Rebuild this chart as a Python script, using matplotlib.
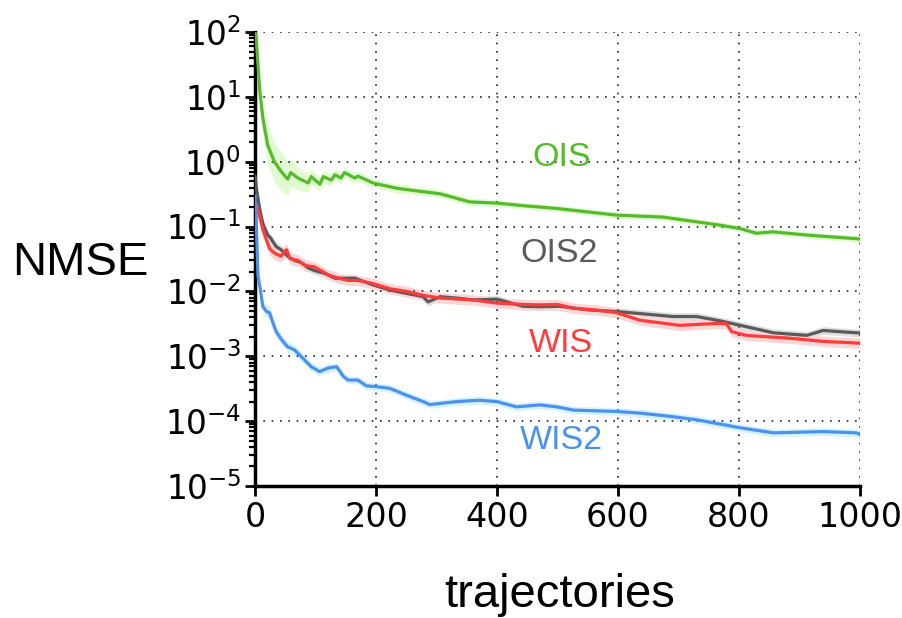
import matplotlib
matplotlib.use("Agg")
import matplotlib.pyplot as plt
import numpy as np
from matplotlib.ticker import LogLocator, NullFormatter

# values (x = trajectories, y = NMSE)
ois_x = [0, 2, 8, 13, 21, 32, 43, 54, 59, 71, 88, 93, 107, 113, 126, 132, 142, 148,
         165, 170, 195, 234, 262, 306, 355, 400, 443, 471, 499, 598, 675, 769, 802,
         829, 856, 912, 994, 1000]
ois_y = [100, 80, 12, 4.7, 1.8, 1.0, 0.71, 0.54, 0.68, 0.56, 0.47, 0.59, 0.45, 0.59,
         0.52, 0.63, 0.56, 0.68, 0.56, 0.6, 0.47, 0.39, 0.36, 0.32, 0.24, 0.23, 0.21,
         0.2, 0.19, 0.15, 0.14, 0.105, 0.093, 0.079, 0.083, 0.074, 0.065, 0.064]
ois_s = [0.0, 0.05, 0.2, 0.28, 0.3, 0.3, 0.3, 0.26, 0.22, 0.18, 0.14, 0.12, 0.11, 0.1,
         0.1, 0.09, 0.09, 0.08, 0.08, 0.08, 0.07, 0.07, 0.06, 0.06, 0.06, 0.05, 0.05,
         0.05, 0.05, 0.05, 0.05, 0.05, 0.05, 0.05, 0.05, 0.05, 0.05, 0.05]

ois2_x = [0, 3, 8, 13, 21, 26, 35, 43, 54, 65, 76, 88, 98, 115, 132, 148, 165, 195,
          223, 251, 278, 286, 306, 333, 361, 400, 443, 471, 504, 550, 598, 691, 730,
          770, 802, 857, 912, 939, 994, 1000]
ois2_y = [0.6, 0.35, 0.18, 0.11, 0.074, 0.066, 0.049, 0.044, 0.035, 0.030, 0.028,
          0.023, 0.021, 0.019, 0.016, 0.016, 0.016, 0.0126, 0.0105, 0.0093, 0.0083,
          0.0069, 0.0083, 0.0079, 0.0074, 0.0076, 0.0059, 0.0058, 0.0059, 0.0052,
          0.0049, 0.0041, 0.0041, 0.0035, 0.003, 0.0023, 0.0021, 0.0025, 0.0023, 0.0023]
ois2_s = [0.0, 0.1, 0.1, 0.08, 0.08, 0.07, 0.07, 0.07, 0.06, 0.06, 0.06, 0.06, 0.06,
          0.06, 0.06, 0.06, 0.06, 0.06, 0.06, 0.06, 0.06, 0.06, 0.06, 0.06, 0.06, 0.06,
          0.06, 0.06, 0.06, 0.06, 0.06, 0.06, 0.06, 0.06, 0.06, 0.06, 0.06, 0.06, 0.06, 0.06]

wis_x = [0, 4, 8, 13, 19, 24, 32, 43, 52, 58, 71, 84, 98, 121, 138, 154, 170, 195,
         223, 251, 278, 306, 361, 400, 443, 471, 500, 526, 560, 598, 636, 702, 760,
         779, 788, 812, 884, 939, 994, 1000]
wis_y = [0.2, 0.2, 0.14, 0.089, 0.062, 0.046, 0.039, 0.035, 0.044, 0.032, 0.030,
         0.025, 0.024, 0.018, 0.016, 0.0148, 0.0148, 0.0132, 0.011, 0.010, 0.0087,
         0.0079, 0.0074, 0.0066, 0.0063, 0.0062, 0.0063, 0.0055, 0.0052, 0.0047,
         0.0036, 0.003, 0.0032, 0.0032, 0.0024, 0.0021, 0.0019, 0.0017, 0.0016, 0.0016]
wis_s = [0.0, 0.05, 0.08, 0.1, 0.1, 0.1, 0.1, 0.1, 0.1, 0.09, 0.09, 0.09, 0.08, 0.08,
         0.08, 0.08, 0.08, 0.08, 0.08, 0.08, 0.08, 0.08, 0.08, 0.08, 0.08, 0.08, 0.08,
         0.08, 0.08, 0.08, 0.08, 0.08, 0.08, 0.08, 0.08, 0.08, 0.08, 0.08, 0.08, 0.08]

wis2_x = [0, 2, 5, 9, 13, 19, 24, 30, 35, 44, 54, 65, 76, 93, 107, 121, 135, 146,
          154, 170, 184, 201, 223, 251, 278, 289, 333, 370, 400, 432, 471, 499, 526,
          598, 640, 691, 730, 802, 857, 939, 994, 1000]
wis2_y = [0.3, 0.12, 0.017, 0.0105, 0.0058, 0.0049, 0.0047, 0.0032, 0.0024, 0.0018,
          0.0014, 0.00126, 0.001, 0.00069, 0.00058, 0.00066, 0.00069, 0.00049, 0.00043,
          0.00043, 0.00035, 0.00034, 0.00032, 0.00025, 0.0002, 0.00018, 0.0002,
          0.00021, 0.0002, 0.000166, 0.000178, 0.000166, 0.000148, 0.000141, 0.000132,
          0.000117, 0.000105, 0.000079, 0.000066, 0.000069, 0.000066, 0.000063]
wis2_s = [0.0, 0.05, 0.1, 0.1, 0.1, 0.1, 0.1, 0.09, 0.09, 0.08, 0.08, 0.08, 0.07,
          0.07, 0.07, 0.07, 0.06, 0.06, 0.06, 0.06, 0.06, 0.06, 0.06, 0.06, 0.06, 0.06,
          0.06, 0.06, 0.06, 0.06, 0.06, 0.06, 0.06, 0.06, 0.06, 0.06, 0.06, 0.06, 0.06,
          0.06, 0.06, 0.06]

names = ["OIS", "OIS2", "WIS", "WIS2"]
line_colors = ["#55bb2a", "#5a5a5a", "#ff3b3b", "#4a92ee"]
band_colors = ["#e2fad2", "#e0e0e0", "#fbd6d6", "#d6f2ff"]
label_pos = [(506, 1.18), (503, 0.038), (506, 0.0016), (506, 5.1e-5)]

series = [(ois_x, ois_y, ois_s), (ois2_x, ois2_y, ois2_s),
          (wis_x, wis_y, wis_s), (wis2_x, wis2_y, wis2_s)]

fig = plt.figure(figsize=(9.02, 6.18), dpi=100)
ax = fig.add_axes([255 / 902, 1 - 486 / 618, 605 / 902, 454 / 618])

for (x, y, s), bc in zip(series, band_colors):
    y = np.array(y)
    f = 10 ** np.array(s)
    ax.fill_between(x, y / f, y * f, color=bc, lw=0, zorder=1)
for (x, y, s), lc in zip(series, line_colors):
    ax.plot(x, y, color=lc, lw=2.3, zorder=3)

for name, lc, (tx, ty) in zip(names, line_colors, label_pos):
    ax.text(tx, ty, name, color=lc, fontsize=24.5, family="Liberation Sans",
            ha="center", va="center", zorder=4)

ax.set_yscale("log")
ax.set_ylim(1e-5, 1e2)
ax.set_xlim(0, 1000)
ax.set_xticks([0, 200, 400, 600, 800, 1000])
ax.yaxis.set_major_locator(LogLocator(base=10, numticks=20))
ax.yaxis.set_minor_locator(LogLocator(base=10, subs=np.arange(2, 10), numticks=20))
ax.yaxis.set_minor_formatter(NullFormatter())

ax.grid(True, which="major", color="#222222", linestyle=(0, (1, 4)), lw=1.2)
for sp in ["top", "right"]:
    ax.spines[sp].set_visible(False)
for sp in ["left", "bottom"]:
    ax.spines[sp].set_linewidth(2.5)

ax.tick_params(axis="x", which="major", direction="out", length=7, width=2,
               labelsize=24, pad=4)
ax.tick_params(axis="y", which="major", direction="out", length=7, width=2,
               labelsize=23.5, pad=3)
ax.tick_params(axis="y", which="minor", direction="out", length=4, width=1.6)

ax.set_xlabel("trajectories", fontsize=34, family="Liberation Sans")
ax.xaxis.set_label_coords(0.504, -0.24)
ax.xaxis.label.set_va("center")
ax.set_ylabel("NMSE", fontsize=34, family="Liberation Sans", rotation=0,
              ha="center", va="center")
ax.yaxis.set_label_coords(-0.289, 0.491)

fig.savefig("out.png", dpi=100)
